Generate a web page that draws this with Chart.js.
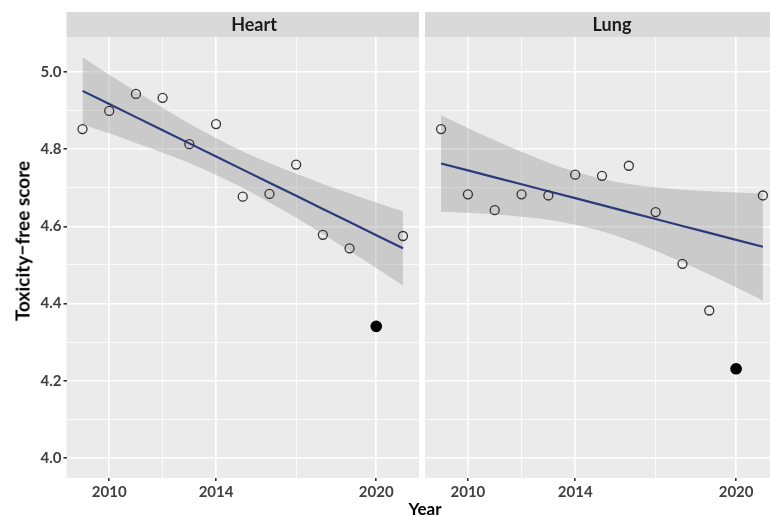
<!DOCTYPE html>
<html>
<head>
<meta charset="utf-8">
<script src="https://cdn.jsdelivr.net/npm/chart.js@4.4.0/dist/chart.umd.min.js"></script>
<style>
  body { margin: 0; width: 770px; height: 517px; overflow: hidden; background: #fff; position: relative; font-family: Lato, sans-serif; }
  canvas { position: absolute; top: 0; }
  #heart { left: 0; }
  #lung { left: 425px; }
  .axis-title { position: absolute; font-weight: bold; color: #000; white-space: nowrap; line-height: 1; }
  #xTitle { font-size: 17px; left: 425px; top: 500px; transform: translateX(-50%); }
  #yTitle { font-size: 19px; left: 22px; top: 241px; transform: translate(-50%, -50%) rotate(-90deg); }
</style>
</head>
<body>
<canvas id="heart" width="420" height="517"></canvas>
<canvas id="lung" width="355" height="517"></canvas>
<div class="axis-title" id="xTitle">Year</div>
<div class="axis-title" id="yTitle">Toxicity−free score</div>
<script>
// data
const years = [2009, 2010, 2011, 2012, 2013, 2014, 2015, 2016, 2017, 2018, 2019, 2020, 2021];
const highlightYear = 2020; // solid point, left out of the fit

const heartScore = [4.852, 4.899, 4.943, 4.933, 4.813, 4.865, 4.677, 4.684, 4.760, 4.578, 4.543, 4.341, 4.575];
const heartFit   = [4.951, 4.917, 4.883, 4.849, 4.815, 4.781, 4.747, 4.713, 4.679, 4.645, 4.611, 4.577, 4.543];
const heartLower = [4.864, 4.841, 4.816, 4.791, 4.764, 4.733, 4.700, 4.662, 4.622, 4.580, 4.536, 4.492, 4.447];
const heartUpper = [5.038, 4.993, 4.950, 4.907, 4.866, 4.829, 4.794, 4.764, 4.736, 4.710, 4.686, 4.662, 4.639];

const lungScore = [4.852, 4.683, 4.642, 4.683, 4.680, 4.734, 4.731, 4.757, 4.637, 4.503, 4.382, 4.231, 4.680];
const lungFit   = [4.763, 4.745, 4.727, 4.709, 4.691, 4.673, 4.655, 4.637, 4.619, 4.601, 4.583, 4.565, 4.547];
const lungLower = [4.638, 4.635, 4.631, 4.625, 4.617, 4.604, 4.587, 4.564, 4.537, 4.507, 4.475, 4.442, 4.408];
const lungUpper = [4.888, 4.855, 4.823, 4.793, 4.765, 4.742, 4.723, 4.710, 4.701, 4.695, 4.691, 4.688, 4.686];

const xMajor = [2010, 2014, 2020];
const xMinor = [2012, 2017];
const yMajor = [4.0, 4.2, 4.4, 4.6, 4.8, 5.0];
const yMinor = [4.1, 4.3, 4.5, 4.7, 4.9];

const pts = (arr) => years.map((yr, i) => ({ x: yr, y: arr[i] }));

const panelBg = {
  id: 'panelBg',
  beforeDraw(chart, args, opts) {
    const { ctx, chartArea: a } = chart;
    ctx.save();
    ctx.fillStyle = '#EBEBEB';
    ctx.fillRect(a.left, a.top, a.right - a.left, a.bottom - a.top);
    ctx.fillStyle = '#D9D9D9';
    ctx.fillRect(a.left, 12, a.right - a.left, 25);
    ctx.fillStyle = '#1A1A1A';
    ctx.font = 'bold 18px Lato';
    ctx.textAlign = 'center';
    ctx.textBaseline = 'middle';
    ctx.fillText(opts.label, opts.labelX, 25);
    ctx.restore();
  }
};

function makePanel(id, label, labelX, score, fit, lower, upper, showY) {
  new Chart(document.getElementById(id), {
    type: 'line',
    data: {
      datasets: [
        {
          data: pts(score),
          showLine: false,
          pointRadius: (c) => c.raw && c.raw.x === highlightYear ? 5.2 : 4.5,
          pointBorderWidth: 1.3,
          pointBorderColor: (c) => c.raw && c.raw.x === highlightYear ? '#000' : '#333',
          pointBackgroundColor: (c) => c.raw && c.raw.x === highlightYear ? '#000' : 'rgba(0,0,0,0)',
          order: 0
        },
        {
          data: pts(fit),
          borderColor: '#2B3A7B',
          borderWidth: 2.2,
          pointRadius: 0,
          fill: false,
          order: 1
        },
        {
          data: pts(upper),
          borderWidth: 0,
          pointRadius: 0,
          cubicInterpolationMode: 'monotone',
          backgroundColor: 'rgba(153,153,153,0.4)',
          fill: '+1',
          order: 2
        },
        {
          data: pts(lower),
          borderWidth: 0,
          pointRadius: 0,
          cubicInterpolationMode: 'monotone',
          fill: false,
          order: 3
        }
      ]
    },
    options: {
      responsive: false,
      devicePixelRatio: 1,
      animation: false,
      layout: { autoPadding: false, padding: { top: 37, right: 1, left: 0, bottom: 0 } },
      plugins: {
        legend: { display: false },
        tooltip: { enabled: false },
        panelBg: { label: label, labelX: labelX }
      },
      scales: {
        x: {
          type: 'linear',
          min: 2008.4,
          max: 2021.6,
          afterBuildTicks: (s) => { s.ticks = xMajor.concat(xMinor).map(v => ({ value: v })); },
          afterFit: (s) => { s.height = 39; s.paddingLeft = 0; s.paddingRight = 0; },
          border: { display: false },
          grid: {
            color: '#FFFFFF',
            lineWidth: (c) => xMajor.includes(c.tick.value) ? 1.6 : 0.8,
            tickColor: (c) => xMajor.includes(c.tick.value) ? '#333333' : 'rgba(0,0,0,0)',
            tickLength: 3
          },
          ticks: {
            autoSkip: false,
            maxRotation: 0,
            padding: 2,
            color: '#404040',
            font: { family: 'Lato', weight: 'bold', size: 15 },
            callback: (v) => xMajor.includes(v) ? String(v) : ''
          }
        },
        y: {
          type: 'linear',
          min: 3.948,
          max: 5.0906,
          afterBuildTicks: (s) => { s.ticks = yMajor.concat(yMinor).map(v => ({ value: v })); },
          afterFit: (s) => { s.width = showY ? 66.5 : 0; },
          border: { display: false },
          grid: {
            color: '#FFFFFF',
            lineWidth: (c) => yMajor.includes(c.tick.value) ? 1.6 : 0.8,
            tickColor: (c) => showY && yMajor.includes(c.tick.value) ? '#333333' : 'rgba(0,0,0,0)',
            tickLength: showY ? 3 : 0
          },
          ticks: {
            display: showY,
            autoSkip: false,
            padding: 2,
            color: '#404040',
            font: { family: 'Lato', weight: 'bold', size: 15 },
            callback: (v) => yMajor.includes(v) ? v.toFixed(1) : ''
          }
        }
      }
    },
    plugins: [panelBg]
  });
}

makePanel('heart', 'Heart', 254, heartScore, heartFit, heartLower, heartUpper, true);
makePanel('lung', 'Lung', 187, lungScore, lungFit, lungLower, lungUpper, false);
</script>
</body>
</html>
